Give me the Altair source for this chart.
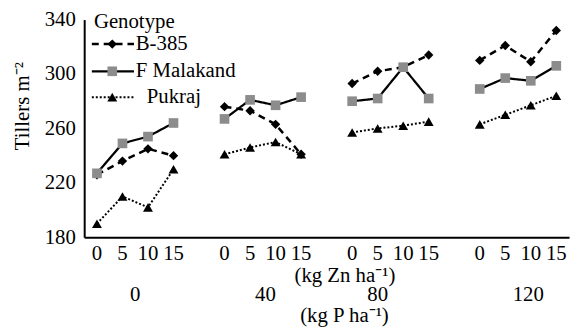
import altair as alt
import pandas as pd

# ---- data ----
GENOTYPES = ["B-385", "F Malakand", "Pukraj"]
ZN_LEVELS = [0, 5, 10, 15]
P_LEVELS = [0, 40, 80, 120]
B385 = [226, 236, 245, 240, 276, 273, 263, 241, 293, 302, 305, 314, 310, 321, 309, 332]
FMAL = [227, 249, 254, 264, 267, 281, 277, 283, 280, 282, 305, 282, 289, 297, 295, 306]
PUK = [190, 210, 202, 230, 241, 246, 250, 241, 257, 260, 262, 265, 263, 270, 277, 284]
Y_TICKS = [180, 220, 260, 300, 340]

FONT = "Liberation Serif"
series = {"B-385": B385, "F Malakand": FMAL, "Pukraj": PUK}

rows = []
for g in GENOTYPES:
    vals = series[g]
    for pi, p in enumerate(P_LEVELS):
        for zi, z in enumerate(ZN_LEVELS):
            rows.append({
                "Genotype": g,
                "pos": pi * 5 + zi,
                "grp": f"{g}-{p}",
                "Zn": z,
                "Tillers": vals[pi * 4 + zi],
            })
df = pd.DataFrame(rows)

dash_scale = alt.Scale(domain=GENOTYPES, range=[[7, 5], [1, 0], [2, 2]])
width_scale = alt.Scale(domain=GENOTYPES, range=[2.5, 2, 2])
shape_scale = alt.Scale(domain=GENOTYPES, range=["diamond", "square", "triangle-up"])
fill_scale = alt.Scale(domain=GENOTYPES, range=["black", "#8c8c8c", "black"])
size_scale = alt.Scale(domain=GENOTYPES, range=[90, 100, 80])

x_scale = alt.Scale(domain=[-0.5, 18.5], nice=False, zero=False)
y_scale = alt.Scale(domain=[180, 340], nice=False, zero=False)

x_enc = alt.X(
    "pos:Q", scale=x_scale,
    axis=alt.Axis(
        labels=False, values=[0],
        title="(kg Zn ha⁻¹)", titleX=263, titleY=39, titleBaseline="middle",
    ),
)
y_enc = alt.Y(
    "Tillers:Q", scale=y_scale,
    axis=alt.Axis(
        values=Y_TICKS, labelPadding=9,
        title="Tillers m⁻²",
        titleX=-62, titleY=87, titleAlign="center", titleBaseline="middle",
    ),
)

base = alt.Chart(df)
lines = base.mark_line(color="black").encode(
    x=x_enc, y=y_enc, detail="grp:N",
    strokeDash=alt.StrokeDash("Genotype:N", scale=dash_scale, legend=None),
    strokeWidth=alt.StrokeWidth("Genotype:N", scale=width_scale, legend=None),
)
points = base.mark_point(filled=True, opacity=1).encode(
    x="pos:Q", y="Tillers:Q",
    shape=alt.Shape("Genotype:N", scale=shape_scale, legend=None),
    fill=alt.Fill("Genotype:N", scale=fill_scale, legend=None),
    size=alt.Size("Genotype:N", scale=size_scale, legend=None),
)

# ---- Zn tick labels (one per x position) ----
zn_df = df[df["Genotype"] == GENOTYPES[0]][["pos", "Zn"]]
zn_text = alt.Chart(zn_df).mark_text(baseline="middle").encode(
    x="pos:Q", y=alt.value(237), text="Zn:N"
)

# ---- P level labels below the Zn axis ----
P_LABEL_POS = [1.5, 6.6, 11.0, 16.9]
p_df = pd.DataFrame({"pos": P_LABEL_POS, "label": [str(p) for p in P_LEVELS]})
p_text = alt.Chart(p_df).mark_text(baseline="middle").encode(
    x="pos:Q", y=alt.value(278), text="label:N"
)
p_title = alt.Chart(pd.DataFrame({"pos": [9.7], "label": ["(kg P ha⁻¹)"]})).mark_text(
    baseline="middle"
).encode(x="pos:Q", y=alt.value(300), text="label:N")

# ---- manual legend (top-left, inside plot) ----
LEG_Y = [322, 302, 283]
leg_line_rows = []
for g, yv in zip(GENOTYPES, LEG_Y):
    leg_line_rows.append({"Genotype": g, "pos": -0.2, "Tillers": yv})
    leg_line_rows.append({"Genotype": g, "pos": 1.45, "Tillers": yv})
leg_lines_df = pd.DataFrame(leg_line_rows)
leg_lines = alt.Chart(leg_lines_df).mark_line(color="black").encode(
    x="pos:Q", y="Tillers:Q", detail="Genotype:N",
    strokeDash=alt.StrokeDash("Genotype:N", scale=dash_scale, legend=None),
    strokeWidth=alt.StrokeWidth("Genotype:N", scale=width_scale, legend=None),
)
leg_pts_df = pd.DataFrame({"Genotype": GENOTYPES, "pos": [0.6] * 3, "Tillers": LEG_Y})
leg_pts = alt.Chart(leg_pts_df).mark_point(filled=True, opacity=1).encode(
    x="pos:Q", y="Tillers:Q",
    shape=alt.Shape("Genotype:N", scale=shape_scale, legend=None),
    fill=alt.Fill("Genotype:N", scale=fill_scale, legend=None),
    size=alt.Size("Genotype:N", scale=size_scale, legend=None),
)
leg_txt_df = pd.DataFrame({
    "label": ["Genotype"] + GENOTYPES,
    "pos": [-0.12, 1.52, 1.52, 1.95],
    "Tillers": [338.5] + LEG_Y,
})
leg_txt = alt.Chart(leg_txt_df).mark_text(align="left", baseline="middle").encode(
    x="pos:Q", y="Tillers:Q", text="label:N"
)

chart = alt.layer(
    lines, points, zn_text, p_text, p_title, leg_lines, leg_pts, leg_txt
).properties(
    width=490, height=220,
    autosize=alt.AutoSizeParams(type="none"),
    padding={"left": 77, "top": 10, "right": 5, "bottom": 92},
    background="white",
).configure_view(
    stroke=None
).configure_axis(
    ticks=False, grid=False, domainColor="black", domainWidth=2,
    labelFont=FONT, labelFontSize=21, labelColor="black",
    titleFont=FONT, titleFontSize=21, titleFontWeight="normal", titleColor="black",
).configure_text(
    font=FONT, fontSize=21, color="black"
)

chart.save("out.html", embed_options={"renderer": "svg", "actions": False})
